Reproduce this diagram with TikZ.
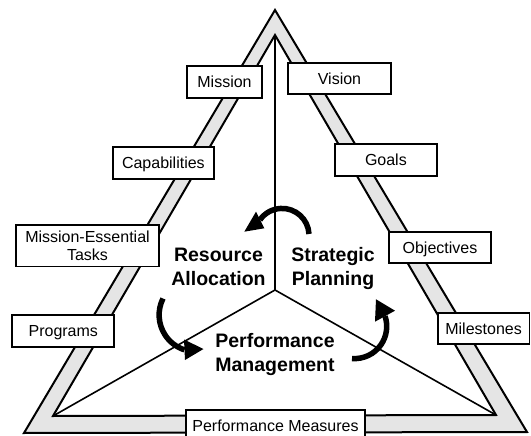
\documentclass[tikz,border=0pt]{standalone}
\usepackage{fontspec}
\setmainfont{Liberation Sans}
\definecolor{bandgray}{RGB}{229,229,229}
\begin{document}
\begin{tikzpicture}[x=1pt,y=-1pt,
  band/.style={fill=bandgray, draw=black, line width=2pt, even odd rule, line join=miter},
  spoke/.style={draw=black, line width=1.6pt},
  lbl/.style={draw=black, line width=1.8pt, fill=white, inner sep=0pt, font=\fontsize{16}{18.4}\selectfont, align=center},
  onebox/.style={lbl, text height=11.5pt, text depth=0pt},
  big/.style={font=\bfseries\fontsize{19.5}{24.4}\selectfont, align=center, inner sep=0pt},
  cyc/.style={draw=black, line width=5.5pt, line cap=butt},
  head/.style={fill=black}]
\useasboundingbox (0,0) rectangle (531,436);
% triangles
\coordinate (OA) at (275,10);
\coordinate (OL) at (24,433);
\coordinate (OR) at (527,432);
\coordinate (IA) at (275,35);
\coordinate (IL) at (53,416);
\coordinate (IR) at (496,415);
\path[band] (OA) -- (OL) -- (OR) -- cycle (IA) -- (IL) -- (IR) -- cycle;
% spokes
\coordinate (C) at (275,290);
\draw[spoke] (C) -- (IA);
\draw[spoke] (C) -- (IL);
\draw[spoke] (C) -- (IR);
% boxes
\node[onebox, minimum width=74.4pt, minimum height=32.6pt] (mission) at (224.5,82) {Mission};
\node[onebox, minimum width=102.4pt, minimum height=31pt] (vision) at (339.5,78.8) {Vision};
\node[onebox, minimum width=101.3pt, minimum height=31.7pt] (capab) at (163.4,163.2) {Capabilities};
\node[onebox, minimum width=101.7pt, minimum height=31.7pt] (goals) at (385.9,160.2) {Goals};
\node[lbl, minimum width=143pt, minimum height=41.7pt] (met) at (87.5,245.6) {Mission-Essential\\Tasks};
\node[onebox, minimum width=102pt, minimum height=31.6pt] (obj) at (440,247.5) {Objectives};
\node[onebox, minimum width=102pt, minimum height=31.7pt] (prog) at (63.3,330.9) {Programs};
\node[onebox, minimum width=91.8pt, minimum height=30.7pt] (miles) at (483.6,328.7) {Milestones};
\node[onebox, minimum width=179pt, minimum height=31pt] (pmeas) at (275.5,425.5) {Performance Measures};
% big labels
\node[big] (ra) at (218.5,266.8) {Resource\\Allocation};
\node[big] (sp) at (333,268.8) {Strategic\\Planning};
\node[big] (pm) at (275,354.5) {Performance\\Management};
% cycle arrows
\coordinate (t0) at (309,234);
\draw[cyc] (t0) arc[start angle=-3, end angle=-145, radius=27];
\fill[head] (244.3,231.7) -- (256,211.7) -- (264.3,228.3) -- cycle;
\coordinate (l0) at (163,298.5);
\draw[cyc] (l0) arc[start angle=206.6, end angle=108, radius=36.7];
\fill[head] (203.5,349) -- (184,339.5) -- (185,360) -- cycle;
\coordinate (r0) at (352,358.5);
\draw[cyc] (r0) arc[start angle=94.5, end angle=-18.6, radius=32.2];
\fill[head] (376,299.3) -- (375,321.7) -- (395,310.7) -- cycle;
\end{tikzpicture}
\end{document}
